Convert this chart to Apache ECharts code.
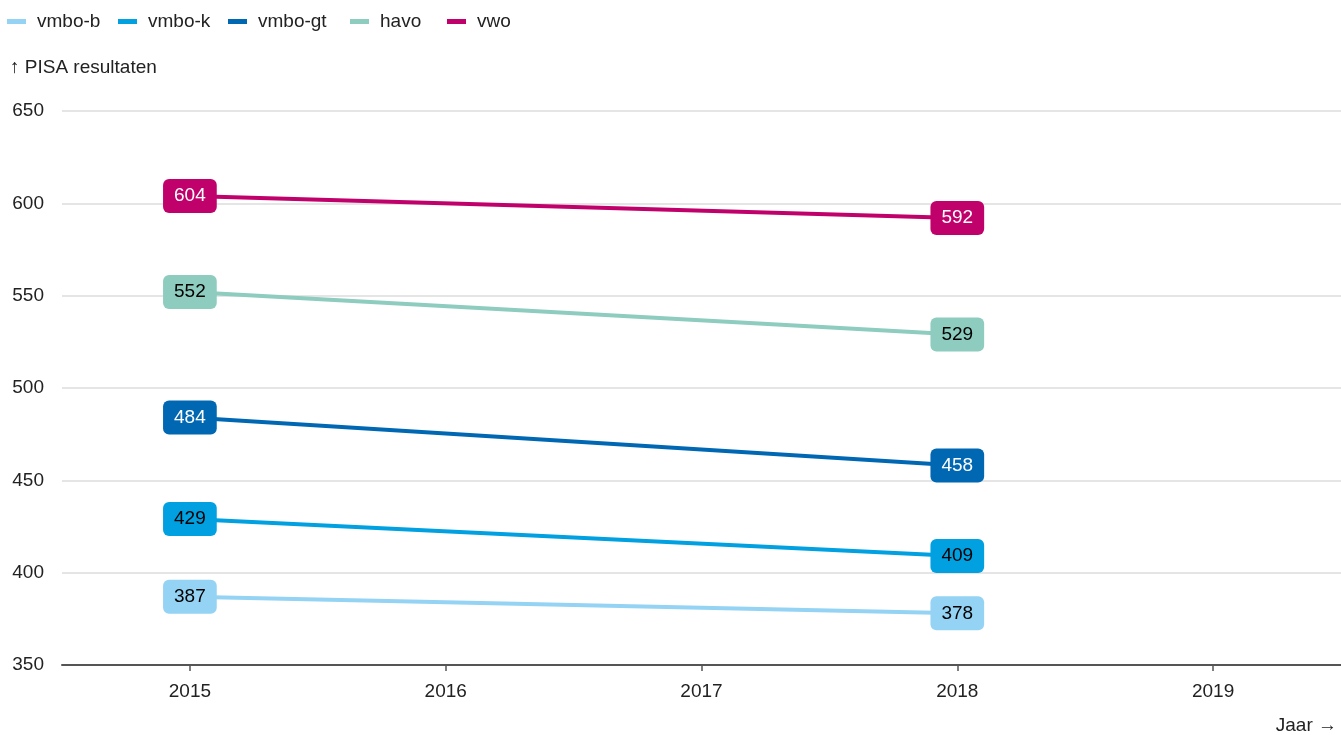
<!DOCTYPE html>
<html><head><meta charset="utf-8">
<script src="https://cdn.jsdelivr.net/npm/echarts@6/dist/echarts.min.js"></script>
<style>html,body{margin:0;padding:0;background:#fff}#c{width:1341px;height:735px}</style>
</head><body><div id="c"></div>
<script>
var years = ['2015','2016','2017','2018','2019'];
var seriesNames = ['vmbo-b','vmbo-k','vmbo-gt','havo','vwo'];
var vmboB = [['2015',387],['2018',378]];
var vmboK = [['2015',429],['2018',409]];
var vmboGT = [['2015',484],['2018',458]];
var havo = [['2015',552],['2018',529]];
var vwo = [['2015',604],['2018',592]];
var colors = ['#94d3f4','#01a0e0','#0067b3','#8dccbf','#c0006b'];
var labelText = ['#000','#000','#fff','#000','#fff'];
var dataSets = [vmboB, vmboK, vmboGT, havo, vwo];
var legendLeft = [7, 118, 228, 350, 447];
var FONT = '"Liberation Sans", sans-serif';

var chart = echarts.init(document.getElementById('c'));
var series = seriesNames.map(function(n,i){
  return {
    name:n, type:'line', data:dataSets[i],
    symbol:'circle', symbolSize:1,
    itemStyle:{color:colors[i], opacity:0},
    lineStyle:{color:colors[i], width:4},
    label:{show:true, position:'inside', formatter:function(p){return p.value[1];},
      backgroundColor:colors[i], color:labelText[i], borderRadius:6,
      padding:[8,11,7,11], fontSize:19, fontFamily:FONT, opacity:1},
    emphasis:{disabled:true},
    z:2+i
  };
});
var legends = seriesNames.map(function(n,i){
  return {left:legendLeft[i], top:12, padding:0, itemWidth:19, itemHeight:5, icon:'rect',
    selectedMode:false,
    textStyle:{fontSize:19, color:'#222', fontFamily:FONT, padding:[0,0,0,6]},
    data:[{name:n, itemStyle:{color:colors[i], opacity:1}}]};
});
chart.setOption({
  animation:false,
  color:colors,
  textStyle:{fontFamily:FONT},
  legend:legends,
  grid:{left:62, right:0, top:111, bottom:70, containLabel:false},
  xAxis:{type:'category', data:years, boundaryGap:true,
    axisLine:{lineStyle:{color:'#555', width:2}},
    axisTick:{show:true, alignWithLabel:true, length:6, lineStyle:{color:'#555', width:1.5}},
    axisLabel:{fontSize:19, color:'#222', margin:17, fontFamily:FONT},
    splitLine:{show:false}},
  yAxis:{type:'value', min:350, max:650, interval:50,
    axisLine:{show:false}, axisTick:{show:false},
    axisLabel:{fontSize:19, color:'#222', margin:18, fontFamily:FONT},
    splitLine:{lineStyle:{color:'#dcdcdc', width:1.5}}},
  graphic:[
    {type:'text', left:10, top:58, style:{text:'↑ PISA resultaten', fontSize:19, fill:'#222', fontFamily:FONT}},
    {type:'text', right:4, top:716, style:{text:'Jaar →', fontSize:19, fill:'#222', fontFamily:FONT}}
  ],
  series:series
});
</script></body></html>
